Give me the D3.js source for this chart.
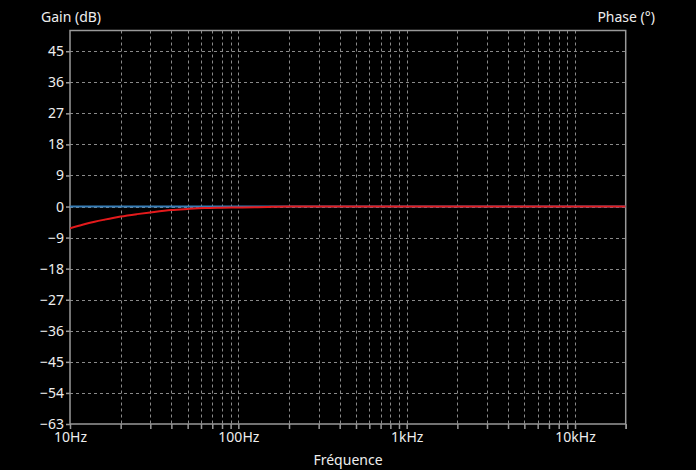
<!DOCTYPE html>
<html>
<head>
<meta charset="utf-8">
<script src="https://cdn.jsdelivr.net/npm/d3@7"></script>
<style>
  html, body { margin: 0; padding: 0; background: #000; }
  svg { display: block; }
  text { font-family: "Noto Sans", "Open Sans", sans-serif; }
</style>
</head>
<body>
<svg id="chart" width="696" height="470"></svg>
<script>
// ---- data ----
const frequencies = [10, 12, 14, 16, 18, 20, 25, 30, 40, 50, 63, 80, 100, 125, 150, 200, 300, 500, 1000, 2000, 5000, 10000, 20000];
const gainDb =      [-6.3, -5.2, -4.4, -3.8, -3.3, -2.9, -2.2, -1.7, -1.0, -0.7, -0.45, -0.35, -0.28, -0.2, -0.1, 0, 0, 0, 0, 0, 0, 0, 0];
const phaseDeg =    [0, 0, 0, 0, 0, 0, 0, 0, 0, 0, 0, 0, 0, 0, 0, 0, 0, 0, 0, 0, 0, 0, 0];
const gainTicks = [-63, -54, -45, -36, -27, -18, -9, 0, 9, 18, 27, 36, 45];
const freqLabels = [{f: 10, t: "10Hz"}, {f: 100, t: "100Hz"}, {f: 1000, t: "1kHz"}, {f: 10000, t: "10kHz"}];
const freqMin = 10, freqMax = 20000;
const gainDomain = [-63, 51];

// ---- layout ----
const svg = d3.select("#chart");
const L = 70, R = 625.7, T = 30.5, B = 424;
const x = d3.scaleLog().domain([freqMin, freqMax]).range([L, R]);
const y = d3.scaleLinear().domain(gainDomain).range([B, T]);
const yPhase = d3.scaleLinear().domain(gainDomain).range([B, T]);

svg.append("rect").attr("width", 696).attr("height", 470).attr("fill", "#000");

// minor/major frequency ticks: 1..9 x decade
const freqTicks = [];
for (let d = 10; d < freqMax; d *= 10) {
  for (let m = 1; m <= 9; m++) {
    const f = d * m;
    if (f >= freqMin && f <= freqMax) freqTicks.push(f);
  }
}
freqTicks.push(freqMax);

const grid = svg.append("g").attr("stroke", "#8a8a8a").attr("stroke-width", 1).attr("stroke-dasharray", "3,3");
grid.selectAll("line.v").data(freqTicks.filter(f => f > freqMin && f < freqMax)).join("line")
  .attr("x1", d => Math.round(x(d)) + 0.5).attr("x2", d => Math.round(x(d)) + 0.5)
  .attr("y1", T).attr("y2", B);
grid.selectAll("line.h").data(gainTicks.filter(v => v > gainDomain[0])).join("line")
  .attr("x1", L).attr("x2", R)
  .attr("y1", d => Math.round(y(d)) + 0.5).attr("y2", d => Math.round(y(d)) + 0.5);

// frame
svg.append("rect").attr("x", L).attr("y", T).attr("width", R - L).attr("height", B - T)
  .attr("fill", "none").attr("stroke", "#999").attr("stroke-width", 1.5);

// left axis
const yAxis = d3.axisLeft(y).tickValues(gainTicks).tickSize(4).tickPadding(2).tickFormat(d3.format("d"));
const gy = svg.append("g").attr("transform", `translate(${L},0)`).call(yAxis);
gy.select(".domain").remove();
gy.selectAll(".tick line").attr("stroke", "#999").attr("stroke-width", 1.5);
gy.selectAll(".tick text").attr("fill", "#eee").attr("font-size", 14).attr("font-family", "Noto Sans");

// bottom axis
const xAxis = d3.axisBottom(x).tickValues(freqTicks).tickSize(5).tickPadding(3)
  .tickFormat(d => { const l = freqLabels.find(o => o.f === d); return l ? l.t : ""; });
const gx = svg.append("g").attr("transform", `translate(0,${B})`).call(xAxis);
gx.select(".domain").remove();
gx.selectAll(".tick line").attr("stroke", "#999").attr("stroke-width", 1.5);
gx.selectAll(".tick text").attr("fill", "#eee").attr("font-size", 14).attr("font-family", "Noto Sans");

// titles
svg.append("text").attr("x", 41).attr("y", 22).attr("fill", "#eee").attr("font-size", 14).text("Gain (dB)");
svg.append("text").attr("x", 655).attr("y", 22).attr("fill", "#eee").attr("font-size", 14).attr("text-anchor", "end").text("Phase (°)");
svg.append("text").attr("x", 348).attr("y", 465).attr("fill", "#eee").attr("font-size", 14).attr("text-anchor", "middle").text("Fréquence");

// series
const clip = svg.append("clipPath").attr("id", "clip").append("rect")
  .attr("x", L).attr("y", T).attr("width", R - L).attr("height", B - T);

const phaseLine = d3.line().x((d, i) => x(frequencies[i])).y(d => yPhase(d));
const gainLine = d3.line().x((d, i) => x(frequencies[i])).y(d => y(d)).curve(d3.curveMonotoneX);

svg.append("path").datum(phaseDeg).attr("clip-path", "url(#clip)")
  .attr("fill", "none").attr("stroke", "#377eb8").attr("stroke-width", 2).attr("d", phaseLine);
svg.append("path").datum(gainDb).attr("clip-path", "url(#clip)")
  .attr("fill", "none").attr("stroke", "#e41a1c").attr("stroke-width", 2).attr("d", gainLine);
</script>
</body>
</html>
